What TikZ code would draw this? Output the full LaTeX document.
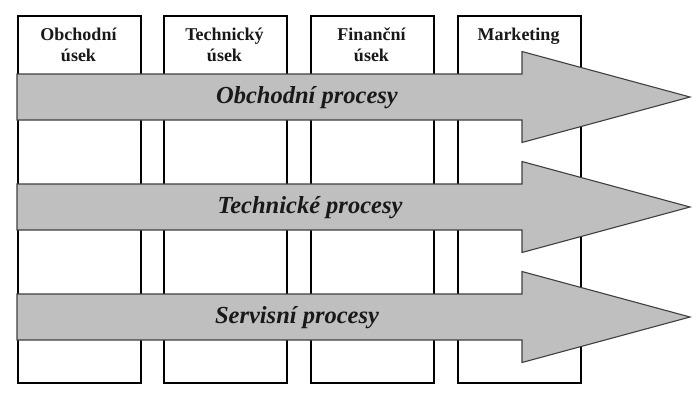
\documentclass[tikz,border=0pt]{standalone}
\usepackage{fontspec}
\setmainfont{Liberation Serif}
\begin{document}
\begin{tikzpicture}[x=1pt,y=-1pt,
  colbox/.style={draw=black,line width=2pt,fill=white,minimum width=123pt,minimum height=367pt,anchor=north west,inner sep=0pt},
  coltext/.style={font=\fontsize{18}{21.5}\selectfont\bfseries,align=center,text=black!90,anchor=north},
  procarrow/.style={fill=black!25,draw=black!75,line width=1.1pt,line join=miter},
  proctext/.style={font=\fontsize{24.5}{27}\selectfont\bfseries\itshape,text=black!90}]
\useasboundingbox (0,0) rectangle (698,400);
\node[colbox] (c1) at (17,15) {};
\node[colbox] (c2) at (163,15) {};
\node[colbox] (c3) at (310,15) {};
\node[colbox] (c4) at (457,15) {};
\node[coltext] (t1) at (78.5,24) {Obchodní\\úsek};
\node[coltext] (t2) at (224.5,24) {Technický\\úsek};
\node[coltext] (t3) at (371.5,24) {Finanční\\úsek};
\node[coltext] (t4) at (518.5,24) {Marketing};
\foreach \y/\n in {74/a1,184/a2,294/a3}{
  \draw[procarrow] (17,\y) -- (522,\y) -- (522,\y-22.5) -- (690,\y+23) -- (522,\y+68.5) -- (522,\y+46) -- (17,\y+46) -- cycle;
}
\node[proctext] (p1) at (307,98) {Obchodní procesy};
\node[proctext] (p2) at (310,208) {Technické procesy};
\node[proctext] (p3) at (297,318) {Servisní procesy};
\end{tikzpicture}
\end{document}
